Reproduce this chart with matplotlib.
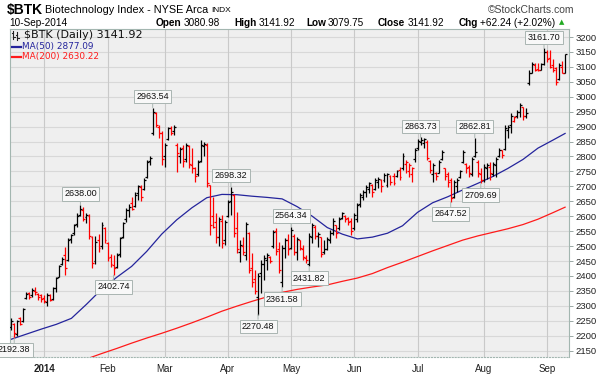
import matplotlib
matplotlib.use("Agg")
import matplotlib.pyplot as plt
import numpy as np
import pandas as pd

plt.rcParams['font.family'] = ['Liberation Sans', 'DejaVu Sans']

# trading days on the chart: 16-Dec-2013 .. 10-Sep-2014
holidays = ["2013-12-25", "2014-01-01", "2014-01-20", "2014-02-17",
            "2014-04-18", "2014-05-26", "2014-07-04", "2014-09-01"]
dates = pd.bdate_range("2013-12-16", "2014-09-10")
dates = dates[~dates.isin(pd.to_datetime(holidays))]

# daily OHLC
opens = [
    2228, 2238, 2205, 2258, 2248, 2325, 2342, 2335, 2350, 2340, 2335,  # Dec
    2325, 2312, 2335, 2322, 2360, 2398, 2440, 2470, 2455, 2525, 2545,
    2575, 2605, 2622, 2598, 2600, 2530, 2450, 2520, 2500, 2560,  # Jan
    2510, 2465, 2435, 2430, 2475, 2530, 2590, 2620, 2645, 2635, 2678,
    2698, 2690, 2730, 2785, 2880, 2945, 2900, 2880,  # Feb
    2800, 2860, 2895, 2885, 2840, 2800, 2830, 2790, 2835, 2770, 2760,
    2740, 2785, 2835, 2840, 2705, 2600, 2580, 2530, 2585, 2520,  # Mar
    2600, 2650, 2670, 2560, 2480, 2500, 2470, 2545, 2425, 2390, 2330,
    2410, 2440, 2455, 2462, 2500, 2550, 2490, 2380, 2495, 2520,  # Apr
    2495, 2535, 2480, 2520, 2490, 2460, 2440, 2530, 2565, 2535, 2530,
    2480, 2490, 2520, 2545, 2570, 2560, 2595, 2600, 2595, 2585,  # May
    2560, 2590, 2640, 2665, 2680, 2690, 2705, 2690, 2715, 2720, 2720,
    2705, 2735, 2735, 2735, 2755, 2760, 2775, 2750, 2740, 2790,  # Jun
    2830, 2850, 2845, 2850, 2785, 2740, 2745, 2745, 2790, 2760, 2740,
    2720, 2665, 2700, 2730, 2780, 2775, 2765, 2740, 2800, 2780, 2740,  # Jul
    2720, 2760, 2765, 2740, 2770, 2800, 2820, 2825, 2890, 2905, 2920,
    2935, 2950, 2965, 2935, 3045, 3080, 3105, 3092, 3090, 3110,  # Aug
    3150, 3130, 3105, 3095, 3060, 3100, 3080.98,  # Sep
]
highs = [
    2258, 2242, 2252, 2264, 2292, 2345, 2347, 2360, 2362, 2344, 2338,
    2336, 2342, 2340, 2362, 2397, 2438, 2465, 2498, 2528, 2542, 2575,
    2610, 2638.00, 2632, 2610, 2606, 2535, 2535, 2540, 2580, 2565,
    2515, 2475, 2470, 2478, 2532, 2582, 2626, 2640, 2665, 2680, 2705,
    2703, 2727, 2788, 2800, 2963.54, 2950, 2905, 2885,
    2844, 2900, 2902, 2905, 2845, 2833, 2840, 2844, 2838, 2827, 2766,
    2788, 2855, 2850, 2844, 2706, 2665, 2610, 2598, 2604, 2587,
    2654, 2698.32, 2675, 2615, 2520, 2530, 2582, 2548, 2476, 2420, 2410,
    2453, 2470, 2476, 2468, 2554, 2560, 2515, 2503, 2526, 2540,
    2564.34, 2540, 2532, 2522, 2503, 2470, 2543, 2576, 2570, 2548, 2532,
    2520, 2532, 2554, 2593, 2572, 2598, 2615, 2603, 2598, 2593,
    2610, 2643, 2677, 2688, 2704, 2716, 2708, 2727, 2732, 2724, 2744,
    2744, 2737, 2744, 2755, 2766, 2810, 2788, 2777, 2766, 2827,
    2858, 2863.73, 2861, 2855, 2788, 2777, 2749, 2788, 2822, 2762, 2749,
    2727, 2721, 2727, 2755, 2822, 2777, 2771, 2799, 2862.81, 2788, 2760,
    2774, 2777, 2780, 2782, 2799, 2827, 2822, 2905, 2905, 2944, 2935,
    2956, 2978, 2967, 2961, 3089, 3117, 3112, 3112, 3112, 3161.70,
    3156, 3156, 3128, 3101, 3112, 3120, 3141.92,
]
lows = [
    2219, 2192.38, 2200, 2236, 2245, 2322, 2322, 2328, 2336, 2320, 2314,
    2310, 2300, 2315, 2318, 2347, 2396, 2435, 2403, 2450, 2510, 2537,
    2565, 2600, 2585, 2578, 2525, 2425, 2440, 2480, 2490, 2510,
    2450, 2430, 2402.74, 2425, 2462, 2526, 2580, 2598, 2620, 2630, 2654,
    2650, 2688, 2727, 2772, 2872, 2900, 2862, 2772,
    2766, 2855, 2872, 2872, 2749, 2777, 2766, 2783, 2760, 2744, 2716,
    2735, 2780, 2800, 2699, 2537, 2560, 2509, 2500, 2492, 2505,
    2596, 2604, 2531, 2476, 2448, 2470, 2453, 2409, 2364, 2340, 2270.48,
    2342, 2386, 2420, 2442, 2492, 2470, 2409, 2361.58, 2459, 2470,
    2490, 2470, 2455, 2488, 2455, 2445, 2431.82, 2509, 2525, 2498, 2465,
    2472, 2487, 2509, 2537, 2526, 2555, 2590, 2582, 2570, 2537,
    2555, 2582, 2632, 2654, 2665, 2677, 2665, 2688, 2693, 2682, 2716,
    2699, 2704, 2706, 2732, 2721, 2755, 2743, 2732, 2716, 2783,
    2822, 2838, 2827, 2788, 2744, 2716, 2721, 2743, 2788, 2721, 2699,
    2647.52, 2660, 2682, 2727, 2777, 2744, 2732, 2735, 2799, 2732, 2709.69,
    2715, 2725, 2720, 2735, 2732, 2799, 2795, 2822, 2861, 2877, 2916,
    2930, 2933, 2922, 2930, 3039, 3078, 3085, 3085, 3088, 3105,
    3115, 3095, 3084, 3039, 3055, 3078, 3079.75,
]
closes = [
    2250, 2210, 2248, 2240, 2288, 2340, 2330, 2352, 2346, 2330, 2322,
    2316, 2336, 2320, 2358, 2392, 2432, 2458, 2425, 2522, 2538, 2570,
    2602, 2625, 2590, 2605, 2535, 2445, 2515, 2495, 2570, 2520,
    2460, 2440, 2425, 2470, 2528, 2578, 2620, 2632, 2625, 2672, 2700,
    2665, 2722, 2782, 2795, 2950, 2905, 2880, 2790,
    2838, 2895, 2880, 2900, 2810, 2825, 2785, 2838, 2775, 2760, 2735,
    2782, 2838, 2842, 2712, 2570, 2565, 2530, 2590, 2510, 2580,
    2648, 2680, 2545, 2490, 2505, 2480, 2575, 2420, 2380, 2350, 2400,
    2440, 2460, 2470, 2450, 2548, 2485, 2420, 2495, 2520, 2490,
    2555, 2480, 2525, 2495, 2465, 2452, 2535, 2570, 2535, 2540, 2475,
    2490, 2525, 2545, 2585, 2545, 2592, 2610, 2590, 2580, 2550,
    2605, 2638, 2670, 2682, 2698, 2710, 2680, 2720, 2725, 2700, 2738,
    2740, 2715, 2710, 2750, 2730, 2800, 2780, 2770, 2760, 2820,
    2852, 2855, 2858, 2795, 2755, 2770, 2735, 2780, 2815, 2735, 2715,
    2660, 2715, 2720, 2750, 2815, 2760, 2745, 2790, 2815, 2745, 2722,
    2765, 2770, 2745, 2775, 2790, 2822, 2805, 2895, 2900, 2935, 2932,
    2950, 2972, 2935, 2945, 3080, 3110, 3090, 3088, 3108, 3150,
    3125, 3100, 3090, 3050, 3105, 3079.68, 3141.92,
]

# moving averages, read every 5th session (last one = final value)
ma50_days = list(range(0, 181, 5)) + [184]
ma50 = [2188, 2205, 2222, 2238, 2258, 2305, 2355, 2395, 2432, 2482, 2540,
        2588, 2628, 2662, 2673, 2672, 2667, 2663, 2658, 2632, 2600, 2562,
        2540, 2524, 2530, 2543, 2568, 2613, 2645, 2665, 2688, 2710, 2733,
        2760, 2790, 2828, 2855, 2877.09]
ma200_days = list(range(25, 181, 5)) + [184]
ma200 = [2122, 2140, 2157, 2175, 2192, 2208, 2225, 2243, 2262, 2282, 2299,
         2315, 2330, 2345, 2355, 2363, 2370, 2382, 2393, 2408, 2428, 2446,
         2465, 2484, 2502, 2520, 2534, 2546, 2558, 2572, 2590, 2612, 2630.22]

# bars whose high / low carry a value label
high_labels = [23, 47, 73, 93, 136, 154, 177]
low_labels = [1, 34, 82, 90, 99, 146, 156]

n = len(dates)
assert n == len(opens) == len(highs) == len(lows) == len(closes) == 185

W, H = 601, 375


def px(x, y):
    return x / W, 1 - y / H


fig = plt.figure(figsize=(W / 100, H / 100), dpi=100)
ax = fig.add_axes([10 / W, 18.3 / H, 559 / W, 327.4 / H])
ax.set_facecolor('#efefef')

idx = np.arange(n)
colors = ['#000000' if i == 0 or closes[i] >= closes[i - 1] else '#ff0000'
          for i in range(n)]

ax.plot(ma50_days, ma50, color='#24249c', lw=0.9, zorder=2)
ax.plot(ma200_days, ma200, color='#ff1a1a', lw=0.9, zorder=2)

ax.vlines(idx, lows, highs, colors=colors, lw=0.9, zorder=3)
ax.hlines(opens, idx - 0.65, idx, colors=colors, lw=0.9, zorder=3)
ax.hlines(closes, idx, idx + 0.65, colors=colors, lw=0.9, zorder=3)

ax.set_xlim(-0.4, 185.3)
ax.set_ylim(2129.6, 3225.8)

# month starts
month_pos = [i for i in range(1, n) if dates[i].month != dates[i - 1].month]
month_lbl = ['2014' if dates[i].month == 1 else dates[i].strftime('%b')
             for i in month_pos]

for y in range(2150, 3201, 50):
    ax.axhline(y, color='#d8d8d8', lw=0.8, zorder=1)
for x in month_pos:
    ax.axvline(x, color='#c9c9c9', lw=0.8, zorder=1)

ax.yaxis.tick_right()
ax.set_yticks(range(2150, 3201, 50))
ax.tick_params(axis='y', length=3, width=0.6, color='#8a9a96', pad=1.5,
               labelsize=6.8, labelcolor='#222222')
ax.set_xticks(month_pos)
ax.set_xticklabels(month_lbl)
ax.tick_params(axis='x', length=0, pad=5, labelsize=7, labelcolor='#222222')
for t in ax.get_xticklabels():
    if t.get_text() == '2014':
        t.set_fontweight('bold')

for s in ax.spines.values():
    s.set_color('#a3b6b0')
    s.set_linewidth(0.8)
ax.spines['bottom'].set_linestyle(':')

# value labels
box = dict(boxstyle='square,pad=0.25', fc='#f8f8f8', ec='#a9b5b1', lw=0.7)
arrow = dict(arrowstyle='-', color='#a9b5b1', lw=0.7, shrinkA=0, shrinkB=0)
for i in high_labels:
    ax.annotate(f"{highs[i]:.2f}", xy=(i, highs[i]), xytext=(0, 8),
                textcoords='offset points', ha='center', va='center',
                fontsize=6.5, color='#111111', bbox=box, arrowprops=arrow,
                annotation_clip=False, zorder=5)
for i in low_labels:
    ax.annotate(f"{lows[i]:.2f}", xy=(i, lows[i]), xytext=(0, -8.5),
                textcoords='offset points', ha='center', va='center',
                fontsize=6.5, color='#111111', bbox=box, arrowprops=arrow,
                annotation_clip=False, zorder=5)

# header
fig.text(*px(7, 10), "$BTK", fontsize=10, fontweight='bold', va='center')
fig.text(*px(45, 10), "Biotechnology Index - NYSE Arca", fontsize=7.8,
         va='center')
fig.text(*px(211, 11), "INDX", fontsize=6, va='center')
fig.text(*px(574, 10), "\u00a9StockCharts.com", fontsize=7.5, va='center',
         ha='right', color='#444444')
fig.text(*px(9, 23), "10-Sep-2014", fontsize=7.2, va='center')
last = n - 1
chg = closes[last] - closes[last - 1]
pct = chg / closes[last - 1] * 100
items = [(156, "Open", opens[last]), (234, "High", highs[last]),
         (306, "Low", lows[last]), (378, "Close", closes[last])]
for x, name, val in items:
    t = fig.text(*px(x, 23), name, fontsize=7.2, fontweight='bold', va='center')
    fig.canvas.draw()
    bb = t.get_window_extent()
    fig.text(bb.x1 / W + 2 / W, 1 - 23 / H, f"{val:.2f}", fontsize=7.2,
             va='center')
t = fig.text(*px(459, 23), "Chg", fontsize=7.2, fontweight='bold', va='center')
fig.canvas.draw()
bb = t.get_window_extent()
t2 = fig.text(bb.x1 / W + 2 / W, 1 - 23 / H, f"{chg:+.2f} ({pct:+.2f}%)",
              fontsize=7.2, va='center')
fig.canvas.draw()
bb = t2.get_window_extent()
fig.text(bb.x1 / W + 3 / W, 1 - 22.5 / H, "\u25b2", fontsize=5,
         color='#22aa22', va='center', family='DejaVu Sans')

# legend in the plot
for xo, yt, yb, yo, yc in [(13, 31, 39, 33, 37), (17, 32, 40, 35, 38)]:
    fig.add_artist(plt.Line2D([xo / W, xo / W], [1 - yt / H, 1 - yb / H],
                              color='#222222', lw=0.8))
    fig.add_artist(plt.Line2D([(xo - 1.5) / W, xo / W], [1 - yo / H, 1 - yo / H],
                              color='#222222', lw=0.8))
    fig.add_artist(plt.Line2D([xo / W, (xo + 1.5) / W], [1 - yc / H, 1 - yc / H],
                              color='#222222', lw=0.8))
fig.text(*px(24, 35), f"$BTK (Daily) {closes[last]:.2f}", fontsize=8,
         family='DejaVu Sans', va='center', color='#111111')
fig.add_artist(plt.Line2D([12 / W, 21 / W], [1 - 46.5 / H] * 2,
                          color='#24249c', lw=1.6))
fig.text(*px(22, 46.5), f"MA(50) {ma50[-1]:.2f}", fontsize=6.4,
         family='DejaVu Sans', va='center', color='#24249c')
fig.add_artist(plt.Line2D([12 / W, 21 / W], [1 - 57 / H] * 2,
                          color='#ff1a1a', lw=1.6))
fig.text(*px(22, 57), f"MA(200) {ma200[-1]:.2f}", fontsize=6.4,
         family='DejaVu Sans', va='center', color='#ff1a1a')

fig.savefig("out.png", dpi=100)
